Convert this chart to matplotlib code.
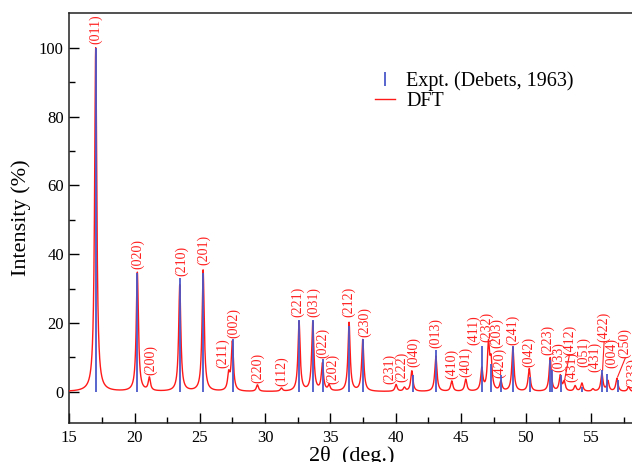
import numpy as np
import matplotlib
matplotlib.use('Agg')
import matplotlib.pyplot as plt
from matplotlib.lines import Line2D

plt.rcParams['font.family'] = ['Liberation Serif', 'DejaVu Serif']

# DFT peaks: 2theta (deg) and intensity (%)
dft_pos = [17.02, 20.21, 21.13, 23.46, 25.25, 27.21, 27.49, 29.41, 31.25, 32.60,
           33.65, 34.39, 34.90, 36.43, 37.48, 40.03, 40.67, 41.24, 43.08, 44.30,
           45.37, 46.60, 47.11, 47.31, 48.06, 48.98, 50.23, 51.84, 52.61, 52.91,
           53.75, 54.27, 55.11, 55.80, 56.26, 56.95, 57.85]
dft_int = [100.0, 34.6, 3.8, 31.0, 35.3, 4.6, 14.2, 1.9, 0.9, 20.3,
           20.1, 7.9, 1.6, 20.0, 15.0, 2.0, 1.1, 6.0, 10.3, 3.0,
           3.5, 6.5, 13.2, 8.0, 2.8, 12.8, 6.6, 9.8, 4.5, 2.7,
           1.6, 2.4, 0.7, 5.2, 3.0, 3.8, 1.4]

# experimental sticks (Debets, 1963)
exp_pos = [17.02, 20.21, 23.46, 25.25, 27.52, 32.60, 33.65, 34.42, 36.45, 37.50,
           41.30, 43.10, 46.60, 47.30, 48.06, 48.98, 50.30, 51.80, 51.95, 52.65,
           54.30, 55.80, 56.20, 57.00]
exp_int = [100.0, 34.5, 33.0, 34.5, 15.3, 21.0, 20.8, 9.4, 19.1, 15.3,
           5.0, 12.1, 13.3, 8.0, 4.9, 13.3, 4.4, 9.2, 6.3, 5.0,
           1.5, 6.3, 5.1, 3.4]

# hkl labels
hkl = ['(011)', '(020)', '(200)', '(210)', '(201)', '(211)', '(002)', '(220)', '(112)',
       '(221)', '(031)', '(022)', '(202)', '(212)', '(230)', '(231)', '(222)', '(040)',
       '(013)', '(410)', '(401)', '(411)', '(232)', '(203)', '(420)', '(241)', '(042)',
       '(223)', '(033)', '(412)', '(431)', '(051)', '(431)', '(422)', '(004)', '(250)',
       '(233)']
hkl_x = [17.02, 20.21, 21.24, 23.61, 25.27, 26.72, 27.62, 29.41, 31.25,
         32.50, 33.70, 34.39, 35.15, 36.43, 37.66, 39.57, 40.47, 41.41,
         43.08, 44.30, 45.38, 45.96, 46.98, 47.75, 48.00, 48.98, 50.17,
         51.66, 52.52, 53.31, 53.50, 54.39, 55.23, 55.97, 56.56, 57.58,
         58.15]
hkl_y = [101.0, 35.8, 4.9, 33.6, 37.0, 6.8, 15.7, 2.6, 1.6,
         21.8, 21.8, 9.9, 2.4, 21.6, 16.0, 2.2, 2.9, 7.3,
         12.6, 3.6, 4.4, 13.6, 14.5, 12.6, 3.9, 13.6, 7.3,
         10.7, 5.8, 10.7, 2.9, 7.3, 5.8, 14.5, 6.8, 9.7,
         1.0]
# leader lines: label index -> peak point
leaders = {29: (52.95, 3.6), 33: (55.85, 6.2), 35: (57.0, 4.3)}

hwhm = 0.1
x = np.linspace(15, 58.3, 8000)
y = np.zeros_like(x)
for p, h in zip(dft_pos, dft_int):
    y += h * hwhm**2 / ((x - p)**2 + hwhm**2)

fig = plt.figure(figsize=(6.32, 4.62), dpi=100)
ax = fig.add_axes([0.1097, 0.085, (634.5 - 69.3) / 632, 0.886])

ax.plot(x, y, color='#ff1a1a', lw=1.0, zorder=3)
ax.vlines(exp_pos, 0, exp_int, color='#4a58c8', lw=1.3, zorder=4)

for i, (t, lx, ly) in enumerate(zip(hkl, hkl_x, hkl_y)):
    ax.text(lx, ly, t, rotation=90, ha='center', va='bottom', color='#ff2020',
            fontsize=10, clip_on=False)
    if i in leaders:
        px, py = leaders[i]
        ax.plot([lx, px], [ly, py], color='#ff2020', lw=0.8)

ax.set_xlim(15, 58.3)
ax.set_ylim(-9, 110)
ax.set_xticks(np.arange(15, 60, 5))
ax.set_xticks(np.arange(17.5, 58, 5), minor=True)
ax.set_yticks(np.arange(0, 101, 20))
ax.set_yticks(np.arange(10, 101, 20), minor=True)
ax.tick_params(which='both', direction='in', top=False, right=False,
               labelsize=12, width=1.0)
ax.tick_params(which='major', length=7.5)
ax.tick_params(which='minor', length=4)
ax.tick_params(axis='x', pad=5)
ax.tick_params(axis='y', pad=4)
for s in ax.spines.values():
    s.set_linewidth(1.1)
    s.set_color('#222222')

ax.set_xlabel('2θ  (deg.)', fontsize=16, labelpad=0)
ax.set_ylabel('Intensity (%)', fontsize=16, labelpad=6)

handles = [Line2D([], [], color='#4a58c8', marker='|', linestyle='None',
                  markersize=10, markeredgewidth=1.3),
           Line2D([], [], color='#ff1a1a', lw=1.0)]
ax.legend(handles, ['Expt. (Debets, 1963)', 'DFT'], loc='upper left',
          bbox_to_anchor=(375 / 632, 1 - 71 / 462), bbox_transform=fig.transFigure,
          frameon=False, fontsize=14.5, handlelength=1.0, handletextpad=0.55,
          labelspacing=0.05, borderpad=0, borderaxespad=0)

fig.savefig('out.png', dpi=100)
